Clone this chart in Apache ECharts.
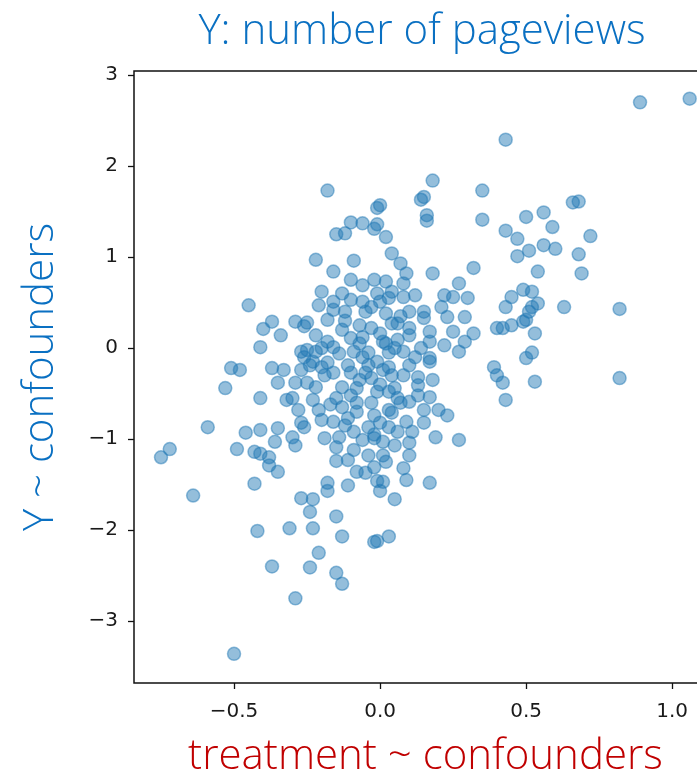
<!DOCTYPE html>
<html>
<head>
<meta charset="utf-8">
<script src="https://cdn.jsdelivr.net/npm/echarts@6/dist/echarts.min.js"></script>
<style>
  html, body { margin: 0; padding: 0; background: #fff; }
  #chart { width: 697px; height: 776px; }
</style>
</head>
<body>
<div id="chart"></div>
<script>
// residual of treatment vs residual of Y (both regressed on confounders)
const residuals = [
  [0.89, 2.70], [1.06, 2.74], [0.43, 2.29], [0.18, 1.84], [-0.18, 1.73], [0.35, 1.73], [0.15, 1.66], [0.14, 1.63],
  [0.00, 1.57], [-0.01, 1.54], [0.16, 1.46], [0.16, 1.40], [0.35, 1.41], [-0.10, 1.38], [-0.06, 1.37], [-0.01, 1.36],
  [-0.02, 1.31], [-0.15, 1.25], [-0.12, 1.26], [0.02, 1.22], [0.04, 1.04], [0.07, 0.93], [0.09, 0.82], [-0.22, 0.97],
  [-0.09, 0.96], [-0.16, 0.84], [0.18, 0.82], [0.32, 0.88], [0.43, 1.29], [0.68, 1.61], [0.66, 1.60], [0.50, 1.44],
  [0.56, 1.49], [0.59, 1.33], [0.47, 1.20], [0.72, 1.23], [0.51, 1.07], [0.56, 1.13], [0.60, 1.09], [0.47, 1.01],
  [0.68, 1.03], [0.54, 0.84], [0.69, 0.82], [0.49, 0.64], [0.52, 0.62], [0.45, 0.56], [0.43, 0.45], [0.54, 0.49],
  [0.52, 0.45], [0.51, 0.40], [0.63, 0.45], [0.82, 0.43], [0.42, 0.22], [0.45, 0.25], [0.49, 0.29], [0.50, 0.31],
  [0.53, 0.16], [0.52, -0.05], [0.50, -0.11], [0.39, -0.21], [0.40, -0.30], [0.42, -0.38], [0.53, -0.37], [0.82, -0.33],
  [0.43, -0.57], [-0.45, 0.47], [-0.37, 0.29], [-0.40, 0.21], [-0.34, 0.14], [-0.29, 0.29], [-0.26, 0.24], [-0.41, 0.01],
  [-0.51, -0.22], [-0.48, -0.24], [-0.37, -0.22], [-0.33, -0.24], [-0.35, -0.38], [-0.29, -0.38], [-0.27, -0.04], [-0.26, -0.10],
  [-0.27, -0.24], [-0.53, -0.44], [-0.41, -0.55], [-0.32, -0.57], [-0.30, -0.55], [-0.28, -0.68], [-0.27, -0.82], [-0.59, -0.87],
  [-0.46, -0.93], [-0.41, -0.90], [-0.35, -0.88], [-0.36, -1.03], [-0.30, -0.98], [-0.29, -1.07], [-0.72, -1.11], [-0.75, -1.20],
  [-0.49, -1.11], [-0.43, -1.14], [-0.41, -1.16], [-0.38, -1.20], [-0.38, -1.29], [-0.35, -1.36], [-0.43, -1.49], [-0.64, -1.62],
  [-0.27, -1.65], [-0.23, -1.66], [-0.24, -1.80], [-0.42, -2.01], [-0.31, -1.98], [-0.23, -1.98], [-0.21, -2.25], [-0.37, -2.40],
  [-0.24, -2.41], [-0.29, -2.75], [-0.50, -3.36], [-0.15, -1.24], [-0.08, -1.36], [-0.05, -1.37], [-0.02, -1.31], [0.02, -1.25],
  [0.08, -1.32], [-0.18, -1.48], [-0.18, -1.57], [-0.11, -1.51], [-0.01, -1.46], [0.01, -1.47], [0.00, -1.57], [0.09, -1.45],
  [0.17, -1.48], [0.05, -1.66], [-0.15, -1.85], [-0.13, -2.07], [-0.02, -2.13], [-0.01, -2.12], [0.03, -2.07], [-0.15, -2.47],
  [-0.13, -2.59], [-0.10, 0.75], [-0.06, 0.69], [-0.02, 0.75], [0.02, 0.73], [-0.20, 0.62], [-0.16, 0.51], [-0.21, 0.47],
  [-0.16, 0.42], [-0.12, 0.40], [-0.18, 0.31], [-0.10, 0.53], [-0.06, 0.51], [-0.01, 0.60], [0.00, 0.51], [0.03, 0.55],
  [-0.05, 0.40], [0.02, 0.38], [-0.25, 0.28], [-0.07, 0.25], [-0.03, 0.22], [-0.06, 0.12], [0.00, 0.16], [0.04, 0.27],
  [0.01, 0.07], [-0.18, 0.07], [-0.16, 0.01], [-0.25, -0.02], [-0.22, -0.04], [-0.09, -0.04], [-0.04, -0.05], [0.03, -0.05],
  [-0.23, -0.15], [-0.18, -0.16], [-0.11, -0.19], [-0.01, -0.15], [0.03, -0.21], [0.27, 0.71], [0.08, 0.71], [0.04, 0.62],
  [0.08, 0.56], [0.12, 0.58], [0.22, 0.58], [0.25, 0.56], [0.30, 0.55], [0.21, 0.45], [0.15, 0.40], [0.15, 0.33],
  [0.23, 0.34], [0.29, 0.34], [0.06, 0.27], [0.10, 0.22], [0.10, 0.14], [0.17, 0.18], [0.25, 0.18], [0.32, 0.16],
  [0.29, 0.07], [0.17, 0.07], [0.40, 0.22], [0.27, -0.04], [0.17, -0.11], [0.10, -0.19], [-0.24, -0.19], [-0.20, -0.21],
  [-0.16, -0.27], [-0.10, -0.27], [-0.04, -0.19], [0.01, -0.24], [0.04, -0.30], [-0.25, -0.38], [-0.22, -0.43], [-0.13, -0.43],
  [-0.08, -0.44], [-0.01, -0.48], [0.03, -0.48], [-0.23, -0.57], [-0.15, -0.55], [-0.13, -0.65], [-0.08, -0.60], [-0.03, -0.60],
  [0.03, -0.68], [-0.20, -0.79], [-0.16, -0.81], [-0.11, -0.77], [-0.04, -0.87], [0.00, -0.82], [0.03, -0.87], [-0.26, -0.87],
  [-0.19, -0.99], [-0.14, -0.98], [-0.09, -0.92], [-0.02, -0.99], [0.01, -1.03], [-0.15, -1.09], [-0.09, -1.12], [0.01, -1.18],
  [0.17, -0.15], [0.08, -0.30], [0.13, -0.32], [0.18, -0.35], [0.13, -0.52], [0.17, -0.54], [0.10, -0.59], [0.07, -0.60],
  [0.15, -0.68], [0.20, -0.68], [0.23, -0.74], [0.04, -0.71], [0.09, -0.81], [0.15, -0.82], [0.11, -0.92], [0.19, -0.98],
  [0.27, -1.01], [0.10, -1.04], [-0.22, 0.14], [-0.13, 0.20], [-0.10, 0.11], [0.06, 0.09], [0.08, -0.04], [0.14, 0.00],
  [0.22, 0.03], [-0.03, -0.33], [-0.07, -0.35], [0.05, -0.44], [-0.10, -0.52], [0.13, -0.41], [-0.21, -0.68], [-0.02, -0.74],
  [-0.06, -1.01], [0.05, -1.07], [-0.11, -1.23], [-0.04, -1.18], [0.10, -1.18], [0.06, -0.92], [-0.20, 0.00], [-0.14, -0.06],
  [-0.06, -0.10], [0.05, 0.00], [-0.12, 0.30], [-0.03, 0.45], [0.10, 0.40], [-0.08, -0.70], [-0.17, -0.62], [0.06, -0.55],
  [-0.05, -0.27], [0.12, -0.10], [-0.13, 0.60], [0.07, 0.35], [-0.02, -0.95], [-0.12, -0.85], [0.02, 0.05], [-0.19, -0.30],
  [0.00, -0.40], [-0.07, 0.05]
];

const xTicks = [-0.5, 0.0, 0.5, 1.0];
const yTicks = [-3, -2, -1, 0, 1, 2, 3];

const titleText = 'Y: number of pageviews';
const xName = 'treatment ~ confounders';
const yName = 'Y ~ confounders';

const minus = v => (v < 0 ? '\u2212' : '') + Math.abs(v);

const chart = echarts.init(document.getElementById('chart'));

const tickFont = { fontFamily: 'DejaVu Sans', fontSize: 20, color: '#1a1a1a' };
const tickLine = { color: '#111', width: 1.3 };

chart.setOption({
  animation: false,
  grid: {
    left: 134, top: 71, width: 583, height: 612,
    outerBoundsMode: 'none', containLabel: false,
    show: true, borderColor: '#111', borderWidth: 1.5, backgroundColor: '#fff'
  },
  graphic: [{
    type: 'text',
    x: 422, y: 32,
    style: {
      text: titleText, fill: '#0a70c2',
      font: '300 42px "Open Sans"', align: 'center', verticalAlign: 'middle'
    }
  }],
  xAxis: {
    type: 'value', min: -0.8425, max: 1.1535,
    name: xName, nameLocation: 'middle', nameGap: 53,
    nameTextStyle: { color: '#c00000', fontSize: 42, fontWeight: 300, fontFamily: 'Open Sans' },
    splitLine: { show: false },
    axisLine: { show: false, onZero: false },
    axisTick: { show: true, customValues: xTicks, length: 6, lineStyle: tickLine },
    axisLabel: Object.assign({
      customValues: xTicks, margin: 19,
      formatter: v => (v < 0 ? '\u2212' : '') + Math.abs(v).toFixed(1)
    }, tickFont)
  },
  yAxis: {
    type: 'value', min: -3.68, max: 3.044,
    name: yName, nameLocation: 'middle', nameGap: 72, nameRotate: 90,
    nameTextStyle: { color: '#0a70c2', fontSize: 42, fontWeight: 300, fontFamily: 'Open Sans' },
    splitLine: { show: false },
    axisLine: { show: false, onZero: false },
    axisTick: { show: true, customValues: yTicks, length: 6, lineStyle: tickLine },
    axisLabel: Object.assign({
      customValues: yTicks, margin: 16,
      formatter: minus
    }, tickFont)
  },
  series: [{
    type: 'scatter',
    data: residuals,
    symbolSize: 13,
    itemStyle: {
      color: 'rgba(31,119,180,0.6)',
      borderColor: 'rgba(31,119,180,0.6)',
      borderWidth: 1.5
    }
  }]
});
</script>
</body>
</html>
